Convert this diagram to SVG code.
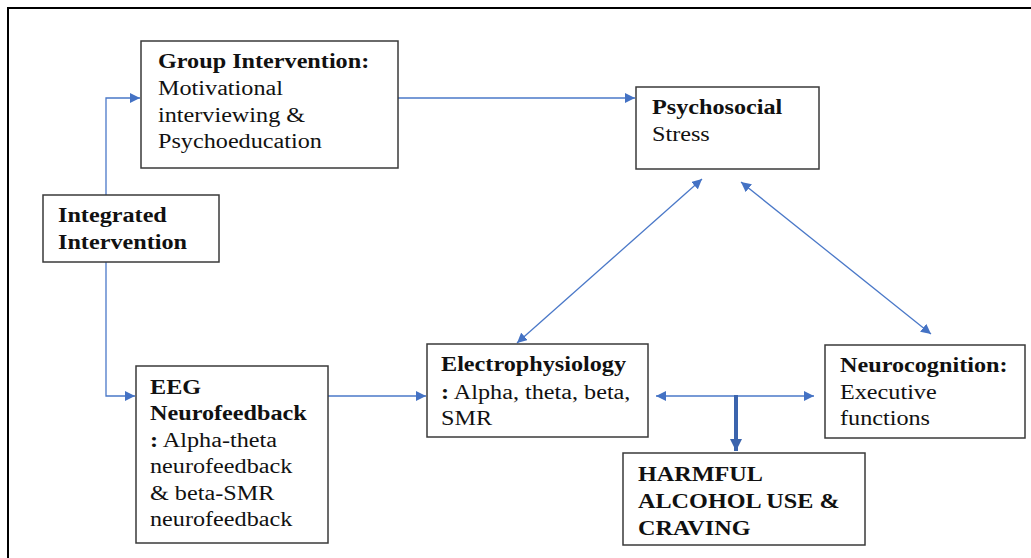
<svg xmlns="http://www.w3.org/2000/svg" width="1031" height="558" viewBox="0 0 1031 558">
<defs>
<marker id="ah" viewBox="0 0 10 10" refX="10" refY="5" markerWidth="10" markerHeight="10" markerUnits="userSpaceOnUse" orient="auto-start-reverse">
<path d="M0,0 L10,5 L0,10 z" fill="#4472c4"/>
</marker>
<marker id="ahb" viewBox="0 0 10 10" refX="10" refY="5" markerWidth="3" markerHeight="3" orient="auto">
<path d="M0,0 L10,5 L0,10 z" fill="#3b64ad"/>
</marker>
</defs>
<style>
.box{fill:#fff;stroke:#3a3a3a;stroke-width:1.5}
.t{font-family:"Liberation Serif","Times New Roman",serif;font-size:20px;fill:#111}
.b{font-weight:bold}
.c{fill:none;stroke:#4a78c8;stroke-width:1.3}
</style>
<rect width="1031" height="558" fill="#fff"/>
<path d="M8,570 V8 H1040" fill="none" stroke="#000" stroke-width="2"/>

<g id="connectors">
<path class="c" d="M106,195 V98 H140" marker-end="url(#ah)"/>
<path class="c" d="M106,262 V396 H135" marker-end="url(#ah)"/>
<path class="c" d="M398,98 H635" marker-end="url(#ah)"/>
<path class="c" d="M328,396 H426" marker-end="url(#ah)"/>
<path class="c" d="M702,179 L517,343" marker-start="url(#ah)" marker-end="url(#ah)"/>
<path class="c" d="M741,182 L931,334" marker-start="url(#ah)" marker-end="url(#ah)"/>
<path class="c" d="M656,396 H814" marker-start="url(#ah)" marker-end="url(#ah)"/>
<path d="M736,395 V451" fill="none" stroke="#3b64ad" stroke-width="4" marker-end="url(#ahb)"/>
</g>

<g id="group-intervention">
<rect class="box" x="141" y="41" width="257" height="127"/>
<text class="t" transform="translate(158,0) scale(1.21,1)"><tspan class="b" x="0" y="68">Group Intervention:</tspan><tspan x="0" y="95">Motivational</tspan><tspan x="0" y="122">interviewing &amp;</tspan><tspan x="0" y="148">Psychoeducation</tspan></text>
</g>

<g id="psychosocial">
<rect class="box" x="636" y="87" width="183" height="82"/>
<text class="t" transform="translate(652,0) scale(1.21,1)"><tspan class="b" x="0" y="114">Psychosocial</tspan><tspan x="0" y="141">Stress</tspan></text>
</g>

<g id="integrated">
<rect class="box" x="43" y="195" width="176" height="67"/>
<text class="t b" transform="translate(58,0) scale(1.21,1)"><tspan x="0" y="222">Integrated</tspan><tspan x="0" y="249">Intervention</tspan></text>
</g>

<g id="eeg">
<rect class="box" x="136" y="366" width="192" height="177"/>
<text class="t" transform="translate(150,0) scale(1.21,1)"><tspan class="b" x="0" y="394">EEG</tspan><tspan class="b" x="0" y="420">Neurofeedback</tspan><tspan x="0" y="447"><tspan class="b">:</tspan> Alpha-theta</tspan><tspan x="0" y="473">neurofeedback</tspan><tspan x="0" y="500">&amp; beta-SMR</tspan><tspan x="0" y="526">neurofeedback</tspan></text>
</g>

<g id="electrophysiology">
<rect class="box" x="427" y="344" width="221" height="93"/>
<text class="t" transform="translate(441,0) scale(1.21,1)"><tspan class="b" x="0" y="371">Electrophysiology</tspan><tspan x="0" y="399"><tspan class="b">:</tspan> Alpha, theta, beta,</tspan><tspan x="0" y="425">SMR</tspan></text>
</g>

<g id="neurocognition">
<rect class="box" x="825" y="345" width="200" height="93"/>
<text class="t" transform="translate(840,0) scale(1.21,1)"><tspan class="b" x="0" y="372">Neurocognition:</tspan><tspan x="0" y="399">Executive</tspan><tspan x="0" y="425">functions</tspan></text>
</g>

<g id="harmful">
<rect class="box" x="623" y="453" width="242" height="92"/>
<text class="t b" transform="translate(638,0) scale(1.21,1)"><tspan x="0" y="481">HARMFUL</tspan><tspan x="0" y="508">ALCOHOL USE &amp;</tspan><tspan x="0" y="535">CRAVING</tspan></text>
</g>
</svg>
